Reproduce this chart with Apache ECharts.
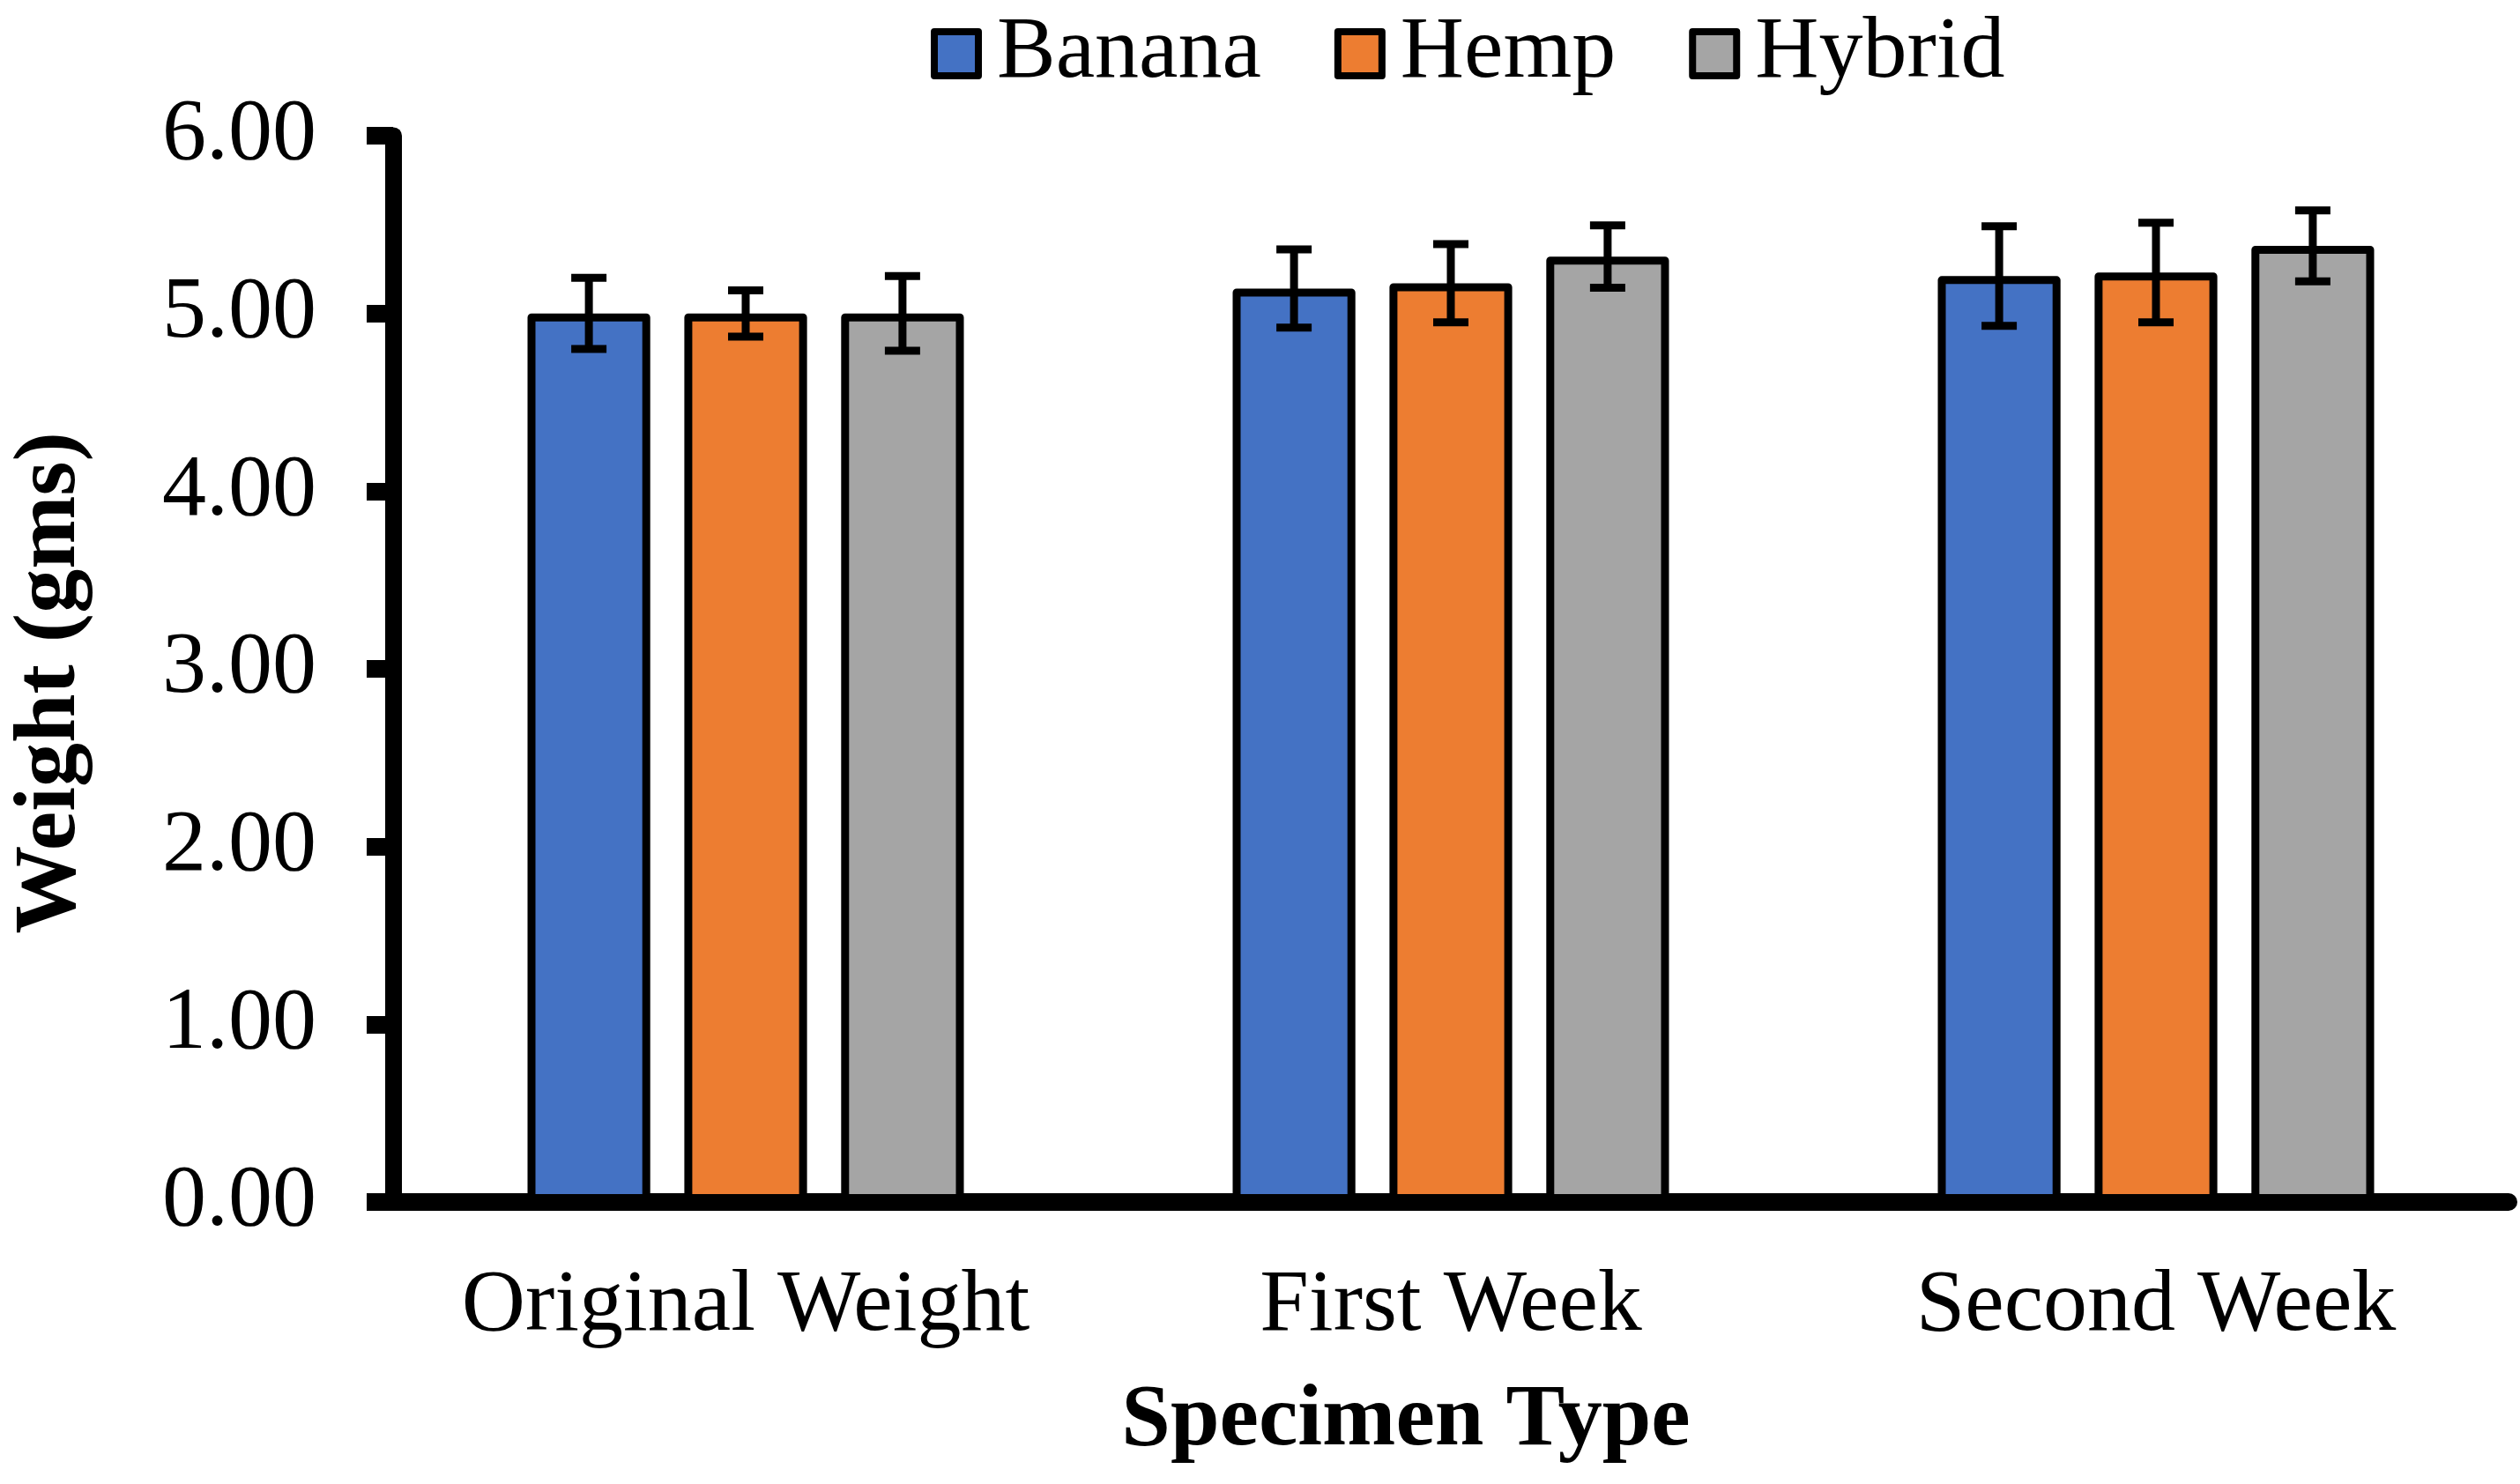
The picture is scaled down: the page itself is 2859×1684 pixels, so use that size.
<!DOCTYPE html>
<html>
<head>
<meta charset="utf-8">
<script src="https://cdn.jsdelivr.net/npm/echarts@6/dist/echarts.min.js"></script>
<style>
html,body{margin:0;padding:0;background:#fff;}
#chart{width:2859px;height:1684px;}
</style>
</head>
<body>
<div id="chart"></div>
<script>
const categories = ['Original Weight', 'First Week', 'Second Week'];
const seriesNames = ['Banana', 'Hemp', 'Hybrid'];
const bananaValues = [5.00, 5.14, 5.21];
const hempValues = [5.00, 5.17, 5.23];
const hybridValues = [5.00, 5.32, 5.38];
const bananaErrors = [0.20, 0.22, 0.28];
const hempErrors = [0.13, 0.22, 0.28];
const hybridErrors = [0.21, 0.175, 0.20];
const yTicks = [0, 1, 2, 3, 4, 5, 6];

const colors = ['#4472C4', '#ED7D31', '#A5A5A5'];
const FONT = '"Liberation Serif", "Times New Roman", serif';
const BAR_W = 0.174;
const BAR_GAP = 0.278;

const valuesList = [bananaValues, hempValues, hybridValues];
const errorsList = [bananaErrors, hempErrors, hybridErrors];

const chart = echarts.init(document.getElementById('chart'), null, {renderer: 'canvas'});

const barSeries = seriesNames.map((name, i) => ({
  name: name,
  type: 'bar',
  data: valuesList[i],
  barWidth: (BAR_W * 100) + '%',
  barGap: (BAR_GAP * 100) + '%',
  itemStyle: {color: colors[i], borderColor: '#000', borderWidth: 9, borderJoin: 'round'},
  emphasis: {disabled: true},
  z: 2
}));

const errorSeries = seriesNames.map((name, i) => ({
  type: 'custom',
  name: name + ' error',
  z: 5,
  silent: true,
  data: valuesList[i].map((v, k) => [k, v, errorsList[i][k]]),
  encode: {x: 0, y: 1},
  renderItem: function (params, api) {
    const cat = api.value(0);
    const v = api.value(1);
    const e = api.value(2);
    const band = api.size([1, 0])[0];
    const offset = (i - 1) * band * BAR_W * (1 + BAR_GAP);
    const top = api.coord([cat, v + e]);
    const bot = api.coord([cat, v - e]);
    const x = top[0] + offset;
    const hw = 20;
    const style = {stroke: '#000', lineWidth: 9, fill: null};
    return {
      type: 'group',
      children: [
        {type: 'line', shape: {x1: x, y1: top[1], x2: x, y2: bot[1]}, style: style},
        {type: 'line', shape: {x1: x - hw, y1: top[1], x2: x + hw, y2: top[1]}, style: style},
        {type: 'line', shape: {x1: x - hw, y1: bot[1], x2: x + hw, y2: bot[1]}, style: style}
      ]
    };
  }
}));

const option = {
  animation: false,
  backgroundColor: '#fff',
  textStyle: {fontFamily: FONT},
  legend: {
    data: seriesNames.map(n => ({name: n, icon: 'rect'})),
    left: 1056,
    top: 11,
    padding: 0,
    itemWidth: 50,
    itemHeight: 50,
    itemGap: 83,
    itemStyle: {borderColor: '#000', borderWidth: 8, borderJoin: 'round'},
    textStyle: {fontFamily: FONT, fontSize: 100, color: '#000', padding: [0, 0, 0, 16]},
    selectedMode: false
  },
  grid: {left: 445, right: 13, top: 154, bottom: 320, containLabel: false},
  xAxis: {
    type: 'category',
    data: categories,
    name: 'Specimen Type',
    nameLocation: 'middle',
    nameGap: 199,
    nameTextStyle: {fontFamily: FONT, fontSize: 100, fontWeight: 'bold', color: '#000', padding: [0, 102, 0, 0]},
    axisLine: {lineStyle: {color: '#000', width: 20}},
    axisTick: {show: false},
    axisLabel: {fontFamily: FONT, fontSize: 100, color: '#000', margin: 69, interval: 0},
    splitLine: {show: false}
  },
  yAxis: {
    type: 'value',
    min: yTicks[0],
    max: yTicks[yTicks.length - 1],
    interval: 1,
    name: 'Weight (gms)',
    nameLocation: 'middle',
    nameGap: 338,
    nameRotate: 90,
    nameTextStyle: {fontFamily: FONT, fontSize: 100, fontWeight: 'bold', color: '#000', padding: [0, 32, 0, 0]},
    axisLine: {show: true, lineStyle: {color: '#000', width: 19}},
    axisTick: {show: true, inside: false, length: 30, lineStyle: {color: '#000', width: 20}},
    axisLabel: {fontFamily: FONT, fontSize: 100, color: '#000', margin: 87, formatter: v => v.toFixed(2)},
    splitLine: {show: false}
  },
  series: barSeries.concat(errorSeries)
};

chart.setOption(option);
</script>
</body>
</html>
